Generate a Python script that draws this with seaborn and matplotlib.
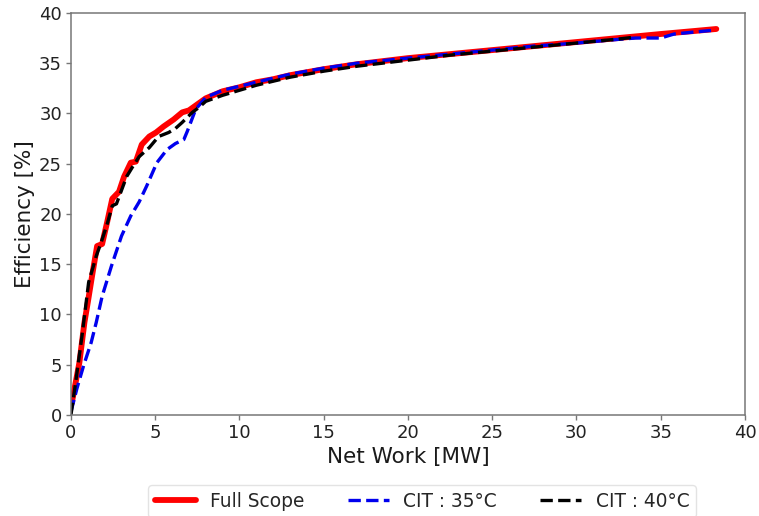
import matplotlib
matplotlib.use("Agg")
import matplotlib.pyplot as plt
import seaborn as sns
import pandas as pd

# Net work [MW] and cycle efficiency [%] for each configuration
full_x = [0.05, 0.5, 0.8, 1.0, 1.25, 1.55, 1.85, 2.15, 2.45, 2.85, 3.15, 3.55, 3.85,
          4.2, 4.65, 5.05, 5.5, 6.1, 6.6, 7.0, 7.5, 8.0, 9, 10, 11, 12, 13, 14, 15,
          17, 20, 22.5, 25, 27.5, 30, 32.5, 35, 37, 38.3]
full_y = [1.2, 5.2, 9.2, 11.2, 13.8, 16.8, 17.0, 19.2, 21.5, 22.2, 23.7, 25.1, 25.2,
          26.9, 27.7, 28.1, 28.7, 29.4, 30.1, 30.3, 30.9, 31.5, 32.2, 32.6, 33.1, 33.4,
          33.8, 34.1, 34.4, 34.9, 35.5, 35.9, 36.3, 36.7, 37.1, 37.5, 37.9, 38.2, 38.4]

cit35_x = [0, 0.35, 0.75, 1.2, 1.5, 1.85, 2.4, 3.0, 3.55, 4.05, 4.5, 5.1, 5.7, 6.2,
           6.7, 6.9, 7.4, 8.0, 9, 10, 11, 12, 13, 14, 15, 17, 20, 22.5, 25, 27.5, 30,
           32, 33.5, 35, 35.8, 37, 38.3]
cit35_y = [0.3, 2.6, 4.9, 7.2, 9.2, 11.8, 14.8, 17.8, 19.8, 21.2, 22.8, 25.1, 26.4,
           27.0, 27.4, 28.2, 30.4, 31.6, 32.3, 32.7, 33.1, 33.5, 33.9, 34.2, 34.5, 35.0,
           35.5, 35.9, 36.3, 36.7, 37.0, 37.3, 37.5, 37.5, 37.9, 38.1, 38.3]

cit40_x = [0, 0.3, 0.65, 1.05, 1.5, 1.8, 2.15, 2.45, 2.7, 3.3, 3.7, 4.05, 4.65, 5.2,
           5.8, 6.2, 6.6, 7.2, 7.6, 8.0, 9, 10, 11, 12, 13, 14, 15, 17, 20, 22.5, 25,
           27.5, 30, 32.5, 33.5]
cit40_y = [0, 3.5, 7.8, 13.2, 15.8, 17.2, 19.0, 20.8, 21.0, 23.7, 24.8, 25.7, 26.6,
           27.7, 28.1, 28.5, 29.1, 30.1, 30.6, 31.2, 31.8, 32.3, 32.8, 33.2, 33.6, 33.9,
           34.2, 34.7, 35.3, 35.8, 36.2, 36.6, 37.0, 37.4, 37.6]

labels = ["Full Scope", "CIT : 35°C", "CIT : 40°C"]

sns.set_style("white")
plt.rcParams["font.family"] = ["DejaVu Sans"]

fig = plt.figure(figsize=(7.59, 5.16), dpi=100)
ax = fig.add_axes([0.0935, 0.196, 0.888, 0.779])

series = [
    (full_x, full_y, labels[0], dict(color="red", linewidth=4.2, linestyle="-")),
    (cit35_x, cit35_y, labels[1], dict(color="#0000ee", linewidth=2.4, linestyle="--")),
    (cit40_x, cit40_y, labels[2], dict(color="black", linewidth=2.4, linestyle="--")),
]
for xs, ys, lab, style in series:
    df = pd.DataFrame({"x": xs, "y": ys})
    sns.lineplot(data=df, x="x", y="y", ax=ax, label=lab, sort=False,
                 estimator=None, **style)

ax.set_xlim(0, 40)
ax.set_ylim(0, 40)
ax.set_xticks(range(0, 41, 5))
ax.set_yticks(range(0, 41, 5))
ax.set_xlabel("Net Work [MW]", fontsize=15.5, labelpad=4, color="#1a1a1a")
ax.set_ylabel("Efficiency [%]", fontsize=15.5, labelpad=3, color="#1a1a1a")
ax.tick_params(axis="both", labelsize=13, length=3.5, width=1, color="#777777",
               labelcolor="#222222", direction="out", bottom=True, left=True, pad=3)
for sp in ax.spines.values():
    sp.set_color("#777777")
    sp.set_linewidth(1.1)

ax.legend(loc="upper center", bbox_to_anchor=(0.521, -0.152), ncol=3, fontsize=13.4,
          handlelength=2.2, columnspacing=2.3, borderpad=0.35, frameon=True,
          edgecolor="#dddddd")

fig.savefig("out.png", dpi=100)
